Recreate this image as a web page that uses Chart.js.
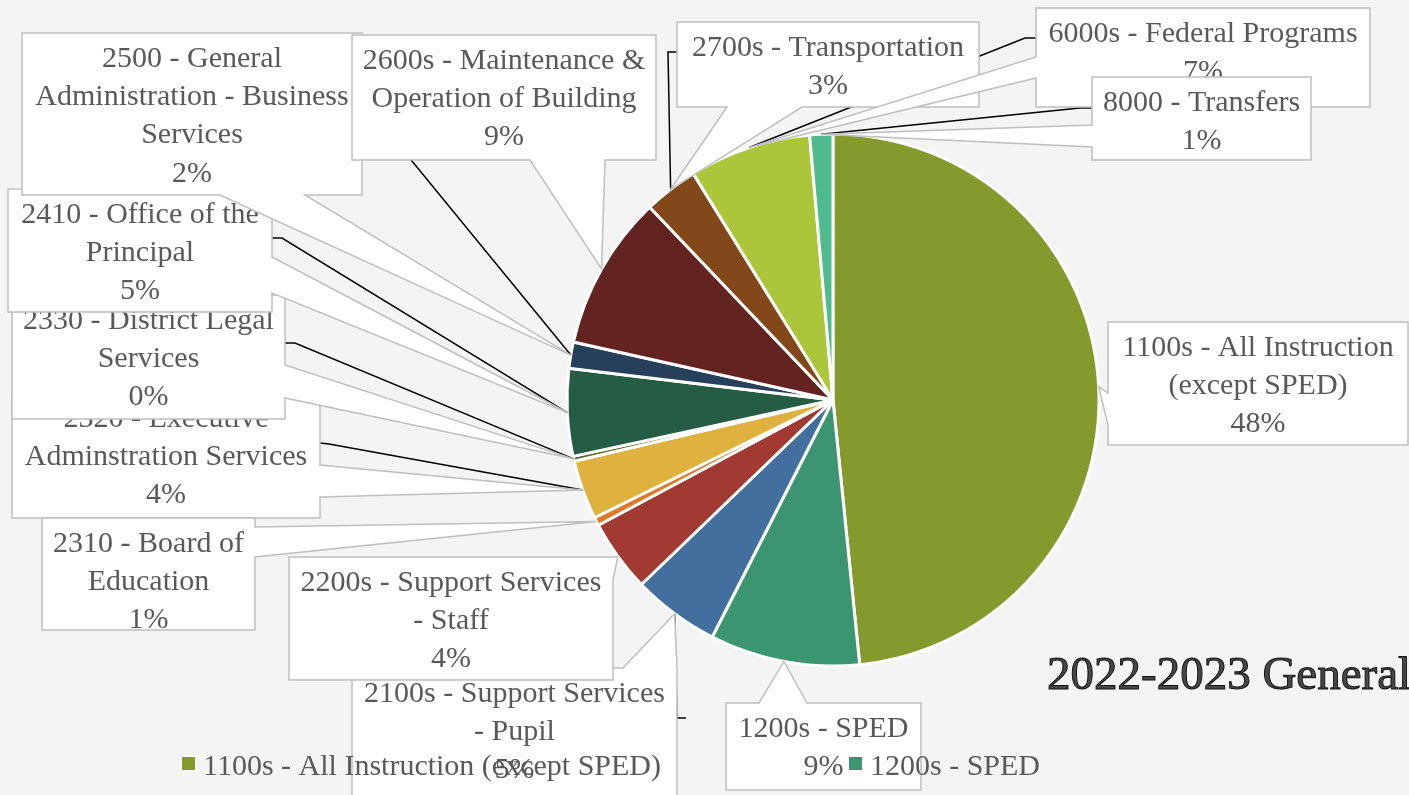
<!DOCTYPE html>
<html>
<head>
<meta charset="utf-8">
<script src="https://cdn.jsdelivr.net/npm/chart.js@4"></script>
<style>
  html, body { margin: 0; padding: 0; background: #f4f4f4; overflow: hidden; }
  canvas { display: block; }
</style>
</head>
<body>
<canvas id="chart" width="1409" height="795"></canvas>
<script>
// Chart data
const categories = [
    "1100s - All Instruction (except SPED)",
    "1200s - SPED",
    "2100s - Support Services - Pupil",
    "2200s - Support Services - Staff",
    "2310 - Board of Education",
    "2320 - Executive Adminstration Services",
    "2330 - District Legal Services",
    "2410 - Office of the Principal",
    "2500 - General Administration - Business Services",
    "2600s - Maintenance & Operation of Building",
    "2700s - Transportation",
    "6000s - Federal Programs",
    "8000 - Transfers"
];
const shares = [48.4, 9.1, 5.3, 4.4, 0.5, 3.6, 0.3, 5.3, 1.6, 9.4, 3.3, 7.4, 1.4];
const sliceColors = [
    "#849a2d", "#3b9571", "#426f9d", "#a03a33", "#dd7a27", "#dfb240", "#56691d",
    "#245d43", "#263f5b", "#632320", "#82481a", "#abc63b", "#4eba8d"
];
const titleText = "2022-2023 General";
const legendShown = 2;

// Callout boxes (layout only): box = [x, y, w, h], wedge side + base span
const callouts = [
    { box: [1108, 322, 300, 123], wrap: 285, side: "left",   base: [393, 425] },
    { box: [726, 703, 195, 87],   wrap: 180, side: "top",    base: [759, 807] },
    { box: [352, 668, 325, 140],  wrap: 305, side: "top",    base: [623, 677], leader: [[686, 718], [677, 718]] },
    { box: [289, 557, 324, 123],  wrap: 305, side: "right",  base: [557, 580] },
    { box: [42, 518, 213, 112],   wrap: 200, side: "right",  base: [527, 557] },
    { box: [12, 393, 308, 125],   wrap: 290, side: "right",  base: [465, 497], leader: [[320, 443], [329, 444]] },
    { box: [12, 295, 273, 124],   wrap: 260, side: "right",  base: [365, 398], leader: [[285, 343], [295, 343]] },
    { box: [8, 189, 264, 123],    wrap: 245, side: "right",  base: [257, 293], leader: [[272, 238], [282, 238]] },
    { box: [22, 33, 340, 162],    wrap: 332, side: "bottom", base: [220, 305], leader: [[350, 100], [362, 100]] },
    { box: [352, 35, 304, 125],   wrap: 290, side: "bottom", base: [530, 605] },
    { box: [677, 22, 302, 85],    wrap: 285, side: "bottom", base: [727, 802], leader: [[677, 52], [668, 52]] },
    { box: [1036, 8, 334, 99],    wrap: 320, side: "left",   base: [57, 78],   leader: [[1036, 38], [1025, 38]] },
    { box: [1092, 77, 219, 83],   wrap: 205, side: "left",   base: [125, 147], leader: [[1092, 108], [1080, 108]] }
];
const drawOrder = [5, 6, 7, 8, 9, 4, 2, 3, 10, 11, 12, 0, 1];

const FONT = '"Liberation Serif", "Times New Roman", serif';
const TEXT_COLOR = "#595959";

function wrapText(ctx, text, maxWidth) {
    const words = text.split(" ");
    const lines = [];
    let line = "";
    for (const w of words) {
        const test = line ? line + " " + w : w;
        if (line && ctx.measureText(test).width > maxWidth) {
            lines.push(line);
            line = w;
        } else {
            line = test;
        }
    }
    if (line) lines.push(line);
    return lines;
}

function calloutPath(ctx, c, tip) {
    const [x, y, w, h] = c.box;
    const [a, b] = c.base;
    ctx.beginPath();
    ctx.moveTo(x, y);
    if (c.side === "top") {
        ctx.lineTo(a, y); ctx.lineTo(tip[0], tip[1]); ctx.lineTo(b, y);
    }
    ctx.lineTo(x + w, y);
    if (c.side === "right") {
        ctx.lineTo(x + w, a); ctx.lineTo(tip[0], tip[1]); ctx.lineTo(x + w, b);
    }
    ctx.lineTo(x + w, y + h);
    if (c.side === "bottom") {
        ctx.lineTo(b, y + h); ctx.lineTo(tip[0], tip[1]); ctx.lineTo(a, y + h);
    }
    ctx.lineTo(x, y + h);
    if (c.side === "left") {
        ctx.lineTo(x, b); ctx.lineTo(tip[0], tip[1]); ctx.lineTo(x, a);
    }
    ctx.closePath();
}

const calloutPlugin = {
    id: "callouts",
    afterDatasetsDraw(chart) {
        const ctx = chart.ctx;
        const meta = chart.getDatasetMeta(0);
        const values = chart.data.datasets[0].data;
        const total = values.reduce((s, v) => s + v, 0);

        const tips = meta.data.map(arc => {
            const mid = (arc.startAngle + arc.endAngle) / 2;
            return [arc.x + Math.cos(mid) * arc.outerRadius, arc.y + Math.sin(mid) * arc.outerRadius];
        });

        ctx.save();
        // leader lines sit under the labels
        ctx.strokeStyle = "#000";
        ctx.lineWidth = 1.5;
        callouts.forEach((c, i) => {
            if (!c.leader) return;
            ctx.beginPath();
            ctx.moveTo(c.leader[0][0], c.leader[0][1]);
            ctx.lineTo(c.leader[1][0], c.leader[1][1]);
            ctx.lineTo(tips[i][0], tips[i][1]);
            ctx.stroke();
        });

        ctx.font = "30px " + FONT;
        ctx.textAlign = "center";
        ctx.textBaseline = "middle";
        for (const i of drawOrder) {
            const c = callouts[i];
            calloutPath(ctx, c, tips[i]);
            ctx.fillStyle = "#ffffff";
            ctx.fill();
            ctx.strokeStyle = "#bfbfbf";
            ctx.lineWidth = 1.5;
            ctx.stroke();

            const pct = Math.round(values[i] / total * 100 + 1e-9) + "%";
            const lines = wrapText(ctx, chart.data.labels[i], c.wrap);
            lines.push(pct);
            ctx.fillStyle = TEXT_COLOR;
            const cx = c.box[0] + c.box[2] / 2;
            lines.forEach((ln, k) => ctx.fillText(ln, cx, c.box[1] + 26 + k * 38.3));
        }

        // legend (only the first items fit)
        ctx.textAlign = "left";
        ctx.textBaseline = "alphabetic";
        const legendX = [182, 849];
        for (let k = 0; k < legendShown; k++) {
            ctx.fillStyle = "#ffffff";
            ctx.fillRect(legendX[k] - 1, 756, 15, 15);
            ctx.fillStyle = sliceColors[k];
            ctx.fillRect(legendX[k], 757, 13, 13);
            ctx.fillStyle = TEXT_COLOR;
            ctx.fillText(chart.data.labels[k], legendX[k] + 21, 775);
        }

        // title
        ctx.font = "47px " + FONT;
        ctx.fillStyle = "#474747";
        ctx.strokeStyle = "#111";
        ctx.lineWidth = 1;
        ctx.fillText(titleText, 1047, 689);
        ctx.strokeText(titleText, 1047, 689);
        ctx.restore();
    }
};

const ctx = document.getElementById("chart");

new Chart(ctx, {
    type: "pie",
    data: {
        labels: categories,
        datasets: [{
            data: shares,
            backgroundColor: sliceColors,
            borderColor: "#ffffff",
            borderWidth: 3
        }]
    },
    options: {
        responsive: false,
        animation: false,
        radius: 266,
        layout: { padding: { left: 567, right: 310, top: 130, bottom: 125 } },
        plugins: {
            legend: { display: false },
            tooltip: { enabled: false },
            title: { display: false }
        }
    },
    plugins: [calloutPlugin]
});
</script>
</body>
</html>
